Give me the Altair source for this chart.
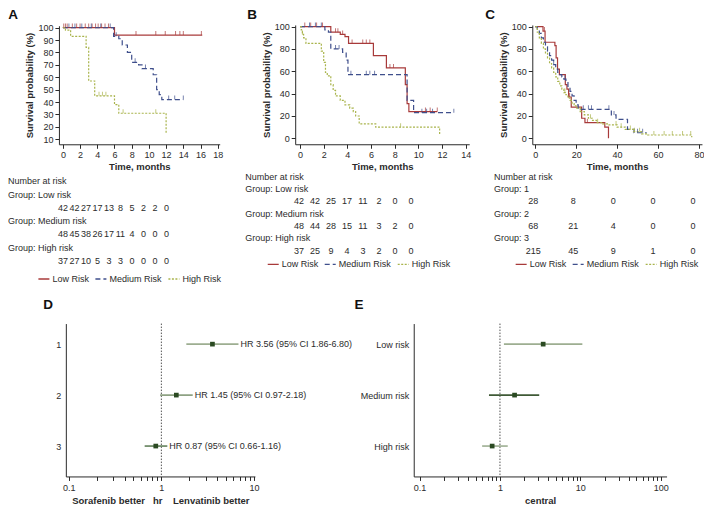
import math
import altair as alt
import pandas as pd

W, H = 696, 498
FONT = "Liberation Sans"
INK = "#2b2b2b"
FS = 9

GROUPS = ["Low Risk", "Medium Risk", "High Risk"]
COLORS = ["#a83a3a", "#3f4f8c", "#a9b44c"]
DASHES = [[1, 0], [5, 3], [2, 1.5]]

# ---------------- Panel A (months) ----------------
A_LOW_T = [0, 6.0, 16.2]
A_LOW_S = [100, 94, 94]
A_LOW_C = [0.1, 0.3, 0.5, 1.1, 1.6, 2.0, 2.6, 3.0, 3.4, 3.8, 4.1, 4.5, 4.9, 5.3, 8.5, 10.8, 11.9, 13.1, 13.6, 14.0, 16.1]
A_MED_T = [0, 5.9, 6.5, 6.9, 7.5, 8.0, 8.8, 9.2, 10.5, 10.9, 11.2, 11.5, 14.0]
A_MED_S = [100, 93, 91, 86, 80, 72, 70, 67, 62, 50, 46, 42, 42]
A_MED_C = [0.7, 1.4, 2.2, 3.3, 4.4, 5.5, 6.2, 8.4, 9.6, 12.3, 13.0, 14.0]
A_HIGH_T = [0, 0.3, 0.9, 2.7, 3.0, 3.7, 6.0, 6.5, 12.0]
A_HIGH_S = [100, 98, 93, 84, 57, 45, 38, 31, 14]
A_HIGH_C = [4.2, 4.6, 5.0, 7.0, 10.8]

# ---------------- Panel B ----------------
B_LOW_T = [0, 2.6, 3.4, 3.8, 4.1, 6.2, 7.3, 8.9, 9.05, 9.2, 11.6]
B_LOW_S = [100, 95, 93, 91, 85, 74, 63, 48, 31, 24, 24]
B_LOW_C = [0.4, 0.9, 1.4, 1.9, 3.0, 3.2, 3.6, 4.4, 5.3, 5.6, 5.9, 7.6, 7.9, 10.6, 11.0, 11.6]
B_MED_T = [0, 2.1, 2.4, 2.6, 3.6, 3.9, 4.05, 9.05, 9.6, 13.0]
B_MED_S = [100, 97, 95, 80, 77, 70, 57, 34, 23, 23]
B_MED_C = [0.8, 1.3, 1.8, 3.0, 3.3, 4.3, 5.6, 5.9, 6.3, 10.3, 10.7, 11.2, 13.0]
B_HIGH_T = [0, 0.1, 0.2, 0.3, 0.5, 1.8, 2.0, 2.15, 2.3, 2.6, 2.8, 3.0, 3.4, 3.8, 4.2, 4.5, 4.7, 5.0, 6.4, 11.8]
B_HIGH_S = [100, 97, 93, 90, 85, 78, 68, 59, 56, 48, 43, 38, 34, 30, 27, 24, 20, 13, 10, 3]
B_HIGH_C = [0.2, 8.5]

# ---------------- Panel C ----------------
C_LOW_T = [0, 3.8, 4.8, 9.6, 10.2, 10.9, 11.8, 14.7, 15.5, 16.3, 17.6, 22.7, 24.3, 34.0, 35.8]
C_LOW_S = [100, 96, 86, 83, 72, 62, 57, 48, 44, 37, 28, 18, 14, 10, 0]
C_LOW_C = [4.5, 16.8, 25.5]
C_MED_T = [0, 1, 2, 3, 4, 5, 6, 7, 8, 9, 10, 11, 12, 13, 14, 15, 16, 17, 18, 19, 20, 21, 37.2, 39.5, 45.1, 48.3, 54.5]
C_MED_S = [100, 97, 94, 90, 86, 82, 78, 74, 70, 66, 62, 59, 57, 55, 53, 50, 46, 42, 38, 34, 30, 26, 21, 17, 8, 5, 5]
C_MED_C = [9.0, 14.5, 23.5, 26.0, 27.5, 36.0, 38.5, 50.0, 52.5]
C_HIGH_T = [0, 1, 2, 3, 4, 5, 6, 7, 8, 9, 10, 11, 12, 13, 14, 15, 16, 17, 18, 19, 20, 22, 24, 26, 28, 30, 33, 36, 40, 44, 48, 52, 55, 76.5]
C_HIGH_S = [100, 95, 90, 85, 80, 76, 72, 67, 63, 59, 55, 51, 47, 44, 41, 39, 36, 34, 31, 29, 27, 24, 21, 18, 16, 14, 13, 12, 10, 8, 6, 4, 3, 1]
C_HIGH_C = [14.5, 22.0, 27.0, 30.5, 39.5, 42.0, 46.5, 48.5, 51.0, 58.0, 63.0, 67.0, 72.0, 76.0]

# ---------------- Numbers at risk ----------------
A_GROUPS = ["Group: Low risk", "Group: Medium risk", "Group: High risk"]
A_RISK = [[42, 42, 27, 17, 13, 8, 5, 2, 2, 0],
          [48, 45, 38, 26, 17, 11, 4, 0, 0, 0],
          [37, 27, 10, 5, 3, 3, 0, 0, 0, 0]]
B_GROUPS = ["Group: Low risk", "Group: Medium risk", "Group: High risk"]
B_RISK = [[42, 42, 25, 17, 11, 2, 0, 0],
          [48, 44, 28, 15, 11, 3, 2, 0],
          [37, 25, 9, 4, 3, 2, 0, 0]]
C_GROUPS = ["Group: 1", "Group: 2", "Group: 3"]
C_RISK = [[28, 8, 0, 0, 0],
          [68, 21, 4, 0, 0],
          [215, 45, 9, 1, 0]]

# ---------------- Forest plots ----------------
D_ROWS = [1, 2, 3]
D_HR = [3.56, 1.45, 0.87]
D_LO = [1.86, 0.97, 0.66]
D_HI = [6.80, 2.18, 1.16]
D_CI_COL = ["#9dae91", "#8ea283", "#62805a"]
E_LABELS = ["Low risk", "Medium risk", "High risk"]
E_HR = [3.45, 1.52, 0.80]
E_LO = [1.12, 0.73, 0.60]
E_HI = [10.6, 3.08, 1.25]
E_CI_COL = ["#9dae91", "#3f5a36", "#9dae91"]
PT_COL = "#2b4a22"


# ---------------- layout helpers ----------------
def px(x):
    return (x - 1.0) * 0.98


def py(y):
    return (y - 4.0) * 0.98


def lin(dom, v0, p0, v1, p1):
    k = (p1 - p0) / (v1 - v0)
    return [p0 + (d - v0) * k for d in dom]


def logr(dom, v0, p0, v1, p1):
    l0, l1 = math.log10(v0), math.log10(v1)
    k = (p1 - p0) / (l1 - l0)
    return [p0 + (math.log10(d) - l0) * k for d in dom]


def step_at(T, S, t):
    v = S[0]
    for a, b in zip(T, S):
        if a <= t:
            v = b
    return v


AX = dict(labelFont=FONT, labelFontSize=FS, labelColor=INK, titleFont=FONT,
          titleFontSize=9.5, titleFontWeight="bold", titleColor=INK,
          domainColor=INK, tickColor=INK, tickSize=4, grid=False,
          labelFlush=False, labelOverlap=False)

layers = []


def km(curves, xdom, xa, ydom, ya, xticks, yticks, leg_x, leg_y):
    xr = lin(xdom, xa[0], px(xa[1]), xa[2], px(xa[3]))
    yr = lin(ydom, ya[0], py(ya[1]), ya[2], py(ya[3]))
    xs = alt.Scale(domain=xdom, range=xr, nice=False, zero=False)
    ys = alt.Scale(domain=ydom, range=yr, nice=False, zero=False)
    line_rows, cens_rows = [], []
    for g, (T, S, C) in zip(GROUPS, curves):
        for i, (t, s) in enumerate(zip(T, S)):
            line_rows.append({"g": g, "t": t, "s": s, "i": i})
        for c in C:
            cens_rows.append({"g": g, "t": c, "s": step_at(T, S, c)})
    legend = alt.Legend(orient="none", legendX=px(leg_x), legendY=py(leg_y) - 6,
                        direction="horizontal", columns=3, title=None,
                        symbolType="stroke", symbolSize=121, symbolStrokeWidth=1.3,
                        labelFont=FONT, labelFontSize=FS, labelColor=INK,
                        labelOffset=2, columnPadding=3, gridAlign="none", padding=0)
    cscale = alt.Scale(domain=GROUPS, range=COLORS)
    dscale = alt.Scale(domain=GROUPS, range=DASHES)
    line = alt.Chart(pd.DataFrame(line_rows)).mark_line(
        interpolate="step-after", strokeWidth=1.2).encode(
        x=alt.X("t:Q", scale=xs, axis=alt.Axis(
            orient="bottom", offset=yr[0] - H, values=xticks, title="Time, months",
            titlePadding=2, labelPadding=2, **AX)),
        y=alt.Y("s:Q", scale=ys, axis=alt.Axis(
            orient="left", offset=-xr[0], values=yticks, title="Survival probability (%)",
            titlePadding=3, labelPadding=2, **AX)),
        color=alt.Color("g:N", scale=cscale, legend=legend),
        strokeDash=alt.StrokeDash("g:N", scale=dscale, legend=legend),
        order=alt.Order("i:Q"),
    )
    ticks = alt.Chart(pd.DataFrame(cens_rows)).mark_tick(
        orient="vertical", size=4, thickness=1, yOffset=-2).encode(
        x=alt.X("t:Q", scale=xs, axis=None),
        y=alt.Y("s:Q", scale=ys, axis=None),
        color=alt.Color("g:N", scale=cscale, legend=None),
    )
    return [line, ticks]


def table(hx, y0, dy, col0, dcol, labels, nums):
    rows_hdr = [{"txt": "Number at risk", "r": 0}] + \
        [{"txt": lab, "r": 1 + 2 * k} for k, lab in enumerate(labels)]
    rows_num = [{"txt": str(v), "r": 2 + 2 * k, "c": j}
                for k, row in enumerate(nums) for j, v in enumerate(row)]
    n = len(nums[0])
    ys = alt.Scale(domain=[0, 6], range=[py(y0), py(y0 + 6 * dy)], nice=False, zero=False)
    xs = alt.Scale(domain=[0, n - 1], range=[px(col0), px(col0 + (n - 1) * dcol)],
                   nice=False, zero=False)
    hdr = alt.Chart(pd.DataFrame(rows_hdr)).mark_text(
        align="left", baseline="middle", font=FONT, fontSize=FS, color=INK).encode(
        x=alt.value(px(hx)), y=alt.Y("r:Q", scale=ys, axis=None), text="txt:N")
    num = alt.Chart(pd.DataFrame(rows_num)).mark_text(
        align="center", baseline="middle", font=FONT, fontSize=FS, color=INK).encode(
        x=alt.X("c:Q", scale=xs, axis=None), y=alt.Y("r:Q", scale=ys, axis=None),
        text="txt:N")
    return [hdr, num]


ROW_Y1, ROW_Y3 = 347, 451
ROW_TOP_PX, ROW_BOT_PX = 326, 482


def forest(ylabels, hr, lo, hi, cols, xdom, xa, xticks, title, texts, y_expr):
    xr = logr(xdom, xa[0], px(xa[1]), xa[2], px(xa[3]))
    k = (ROW_Y3 - ROW_Y1) / 2.0
    ydom = [1 + (ROW_TOP_PX - ROW_Y1) / k, 1 + (ROW_BOT_PX - ROW_Y1) / k]
    yr = lin(ydom, 1, py(ROW_Y1), 3, py(ROW_Y3))
    xs = alt.Scale(type="log", domain=xdom, range=xr, nice=False, zero=False)
    ys = alt.Scale(domain=ydom, range=yr, nice=False, zero=False)
    df = pd.DataFrame({"row": [1, 2, 3], "hr": hr, "lo": lo, "hi": hi, "col": cols,
                       "txt": texts})
    major = "(datum.value == 0.1 || datum.value == 1 || datum.value == 10 || datum.value == 100) ? datum.label : ''"
    ci = alt.Chart(df).mark_rule(strokeWidth=1.6).encode(
        x=alt.X("lo:Q", scale=xs, axis=alt.Axis(
            orient="bottom", offset=yr[1] - H, values=xticks, format="~g",
            labelExpr=major, title=title, titlePadding=3, labelPadding=3, **AX)),
        x2="hi:Q",
        y=alt.Y("row:Q", scale=ys, axis=alt.Axis(
            orient="left", offset=-xr[0], values=[1, 2, 3], ticks=False,
            labelExpr=y_expr, title=None, labelPadding=5, **AX)),
        color=alt.Color("col:N", scale=None),
    )
    pt = alt.Chart(df).mark_square(size=22, color=PT_COL, opacity=1).encode(
        x=alt.X("hr:Q", scale=xs, axis=None),
        y=alt.Y("row:Q", scale=ys, axis=None),
    )
    ref = alt.Chart(pd.DataFrame({"x": [1.0], "y0": [ydom[0]], "y1": [ydom[1]]})).mark_rule(
        strokeDash=[1.5, 1.5], color="#555555", strokeWidth=1).encode(
        x=alt.X("x:Q", scale=xs, axis=None),
        y=alt.Y("y0:Q", scale=ys, axis=None), y2="y1:Q")
    out = [ref, ci, pt]
    if any(texts):
        lab = alt.Chart(df).mark_text(align="left", baseline="middle", dx=2, font=FONT,
                                      fontSize=FS, color=INK).encode(
            x=alt.X("hi:Q", scale=xs, axis=None),
            y=alt.Y("row:Q", scale=ys, axis=None),
            text="txt:N")
        out.append(lab)
    return out


def letter(ch, x, y):
    return alt.Chart(pd.DataFrame({"t": [ch]})).mark_text(
        font=FONT, fontSize=13.5, fontWeight="bold", color="#111111",
        align="center", baseline="top").encode(
        x=alt.value(x), y=alt.value(y), text="t:N")


# ---- KM panels ----
layers += km([(A_LOW_T, A_LOW_S, A_LOW_C), (A_MED_T, A_MED_S, A_MED_C), (A_HIGH_T, A_HIGH_S, A_HIGH_C)],
             [-0.46, 18.23], (0, 57, 18, 215), [6, 101.5], (10, 138, 100, 24),
             list(range(0, 19, 2)), list(range(10, 101, 10)), 31, 280)
layers += km([(B_LOW_T, B_LOW_S, B_LOW_C), (B_MED_T, B_MED_S, B_MED_C), (B_HIGH_T, B_HIGH_S, B_HIGH_C)],
             [-0.41, 14.3], (0, 299, 14, 468), [-5.3, 101.5], (0, 137, 100, 23),
             list(range(0, 15, 2)), list(range(0, 101, 20)), 265, 265)
layers += km([(C_LOW_T, C_LOW_S, C_LOW_C), (C_MED_T, C_MED_S, C_MED_C), (C_HIGH_T, C_HIGH_S, C_HIGH_C)],
             [-1.44, 81.5], (0, 539, 80, 706), [-5.3, 101.5], (0, 137, 100, 23),
             list(range(0, 81, 20)), list(range(0, 101, 20)), 518, 265)

# ---- number-at-risk tables ----
layers += table(1, 181, 13.5, 57, 11.75, A_GROUPS, A_RISK)
layers += table(243, 176, 12.6, 298, 16.3, B_GROUPS, B_RISK)
layers += table(497, 176, 12.6, 537, 40.75, C_GROUPS, C_RISK)

# ---- forest plots ----
D_TXT = ["HR %.2f (95%% CI %.2f-%.2f)" % (h, l, u) for h, l, u in zip(D_HR, D_LO, D_HI)]
D_TICKS = [round(0.1 * i, 1) for i in range(1, 10)] + list(range(1, 11))
E_TICKS = D_TICKS[:-1] + list(range(10, 101, 10))
layers += forest(D_ROWS, D_HR, D_LO, D_HI, D_CI_COL, [0.093, 10.24], (0.1, 63, 10, 252),
                 D_TICKS, "Sorafenib better\u00a0\u00a0 hr\u00a0\u00a0\u00a0 Lenvatinib better",
                 D_TXT, "datum.label")
layers += forest(E_LABELS, E_HR, E_LO, E_HI, E_CI_COL, [0.0845, 118.4], (0.1, 421, 100, 667),
                 E_TICKS, "central", ["", "", ""],
                 "['', 'Low risk', 'Medium risk', 'High risk'][datum.value]")

# ---- panel letters ----
layers += [letter("A", 5, 0), letter("B", 244, 0), letter("C", 482, 0),
           letter("D", 40, 290), letter("E", 351, 290)]

chart = alt.layer(*layers).properties(
    width=W, height=H, autosize=alt.AutoSizeParams(type="none"), padding=0
).resolve_scale(
    x="independent", y="independent", color="independent", strokeDash="independent"
).resolve_axis(
    x="independent", y="independent"
).resolve_legend(
    color="independent", strokeDash="independent"
).configure_view(stroke=None)

chart.save("out.html", embed_options={"renderer": "svg", "actions": False})
